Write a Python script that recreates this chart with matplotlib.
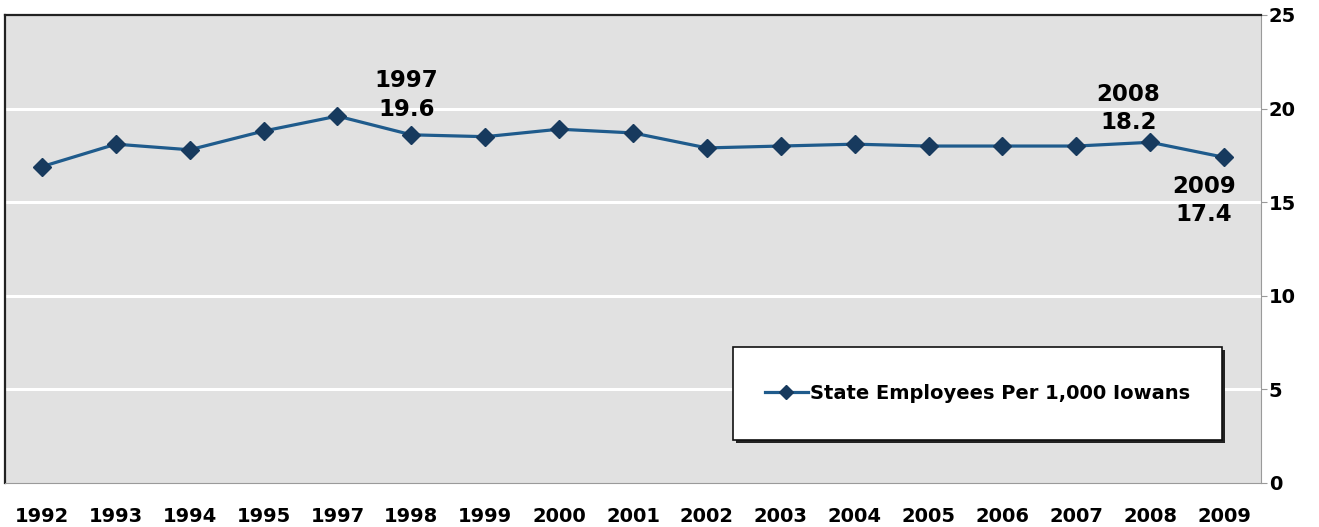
import matplotlib
matplotlib.use("Agg")
import matplotlib.pyplot as plt
from matplotlib.patches import Rectangle
from matplotlib.lines import Line2D

# donnees
years = ["1992", "1993", "1994", "1995", "1997", "1998", "1999", "2000", "2001",
         "2002", "2003", "2004", "2005", "2006", "2007", "2008", "2009"]
values = [16.9, 18.1, 17.8, 18.8, 19.6, 18.6, 18.5, 18.9, 18.7,
          17.9, 18.0, 18.1, 18.0, 18.0, 18.0, 18.2, 17.4]
label = "State Employees Per 1,000 Iowans"
y_ticks = [0, 5, 10, 15, 20, 25]

line_color = "#1f5b8c"
marker_color = "#173a5e"

plt.rcParams["font.family"] = ["DejaVu Sans"]
plt.rcParams["font.weight"] = "bold"

fig = plt.figure(figsize=(13.19, 5.27), dpi=100)
ax = fig.add_axes([5 / 1319, 44 / 527, 1256 / 1319, 468 / 527])
ax.set_facecolor("#e1e1e1")

x = list(range(len(years)))
ax.plot(x, values, color=line_color, lw=2.3, marker="D", ms=9,
        mfc=marker_color, mec=marker_color, zorder=3)

ax.set_xlim(-0.5, len(years) - 0.5)
ax.set_ylim(0, 25)
ax.set_xticks(x)
ax.set_xticklabels(years, fontsize=14, fontweight="bold")
ax.tick_params(axis="x", length=0, pad=17)

ax.yaxis.tick_right()
ax.set_yticks(y_ticks)
ax.set_yticklabels([str(t) for t in y_ticks], fontsize=14, fontweight="bold")
ax.tick_params(axis="y", length=4, color="#999999", pad=1.5)

for t in y_ticks[1:-1]:
    ax.axhline(t, color="white", lw=2.2, zorder=1)

ax.spines["left"].set_color("#222222")
ax.spines["top"].set_color("#222222")
ax.spines["left"].set_linewidth(1.6)
ax.spines["top"].set_linewidth(1.6)
ax.spines["right"].set_color("#9a9a9a")
ax.spines["bottom"].set_color("#9a9a9a")

# etiquettes
notes = [(4, (69, 21)), (15, (-22, 34)), (16, (-20, -43))]
for i, off in notes:
    ax.annotate(f"{years[i]}\n{values[i]}", (x[i], values[i]), xytext=off,
                textcoords="offset pixels", ha="center", va="center",
                fontsize=16.5, fontweight="bold", linespacing=1.3, zorder=4)

# legende avec ombre
lx, ly, lw_, lh = 728 / 1256, 43 / 468, 489 / 1256, 93 / 468
shadow = Rectangle((lx + 3 / 1256, ly - 3 / 468), lw_, lh, transform=ax.transAxes,
                   facecolor="#222222", edgecolor="none", zorder=5)
box = Rectangle((lx, ly), lw_, lh, transform=ax.transAxes,
                facecolor="white", edgecolor="#111111", lw=1.2, zorder=6)
ax.add_patch(shadow)
ax.add_patch(box)
handle = Line2D([], [], color=line_color, lw=2.3, marker="D", ms=7,
                mfc=marker_color, mec=marker_color)
leg = ax.legend([handle], [label], loc="center",
                bbox_to_anchor=(lx, ly, lw_, lh), bbox_transform=ax.transAxes,
                frameon=False, prop={"size": 14, "weight": "bold"},
                handlelength=2.2, handletextpad=0.1)
leg.set_zorder(7)

fig.savefig("out.png", dpi=100)
